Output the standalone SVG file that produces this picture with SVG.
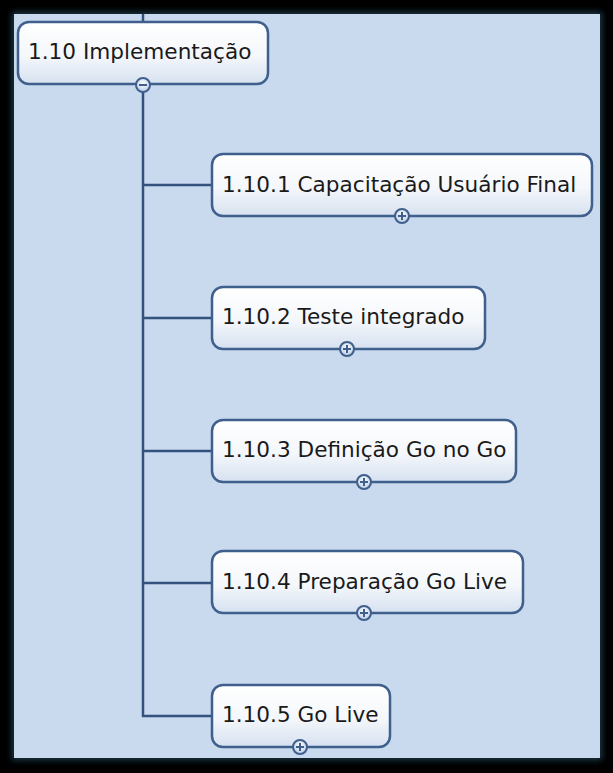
<svg xmlns="http://www.w3.org/2000/svg" width="613" height="773" viewBox="0 0 613 773">
<defs>
<linearGradient id="nodeFill" x1="0" y1="0" x2="0" y2="1">
<stop offset="0" stop-color="#ffffff"/>
<stop offset="0.55" stop-color="#f4f7fb"/>
<stop offset="1" stop-color="#d6e1f0"/>
</linearGradient>
<radialGradient id="btnFill" cx="0.5" cy="0.4" r="0.6">
<stop offset="0" stop-color="#ffffff"/>
<stop offset="1" stop-color="#b9cbe3"/>
</radialGradient>
<filter id="glow" x="-5%" y="-5%" width="110%" height="110%">
<feGaussianBlur stdDeviation="3"/>
</filter>
</defs>
<style>
.node{fill:url(#nodeFill);stroke:#3f5f8c;stroke-width:2.5}
.lbl{font-family:"DejaVu Sans",Verdana,sans-serif;font-size:21.6px;fill:#1a1a1a}
.conn{stroke:#33527d;stroke-width:2.5;fill:none}
.btn{fill:url(#btnFill);stroke:#3f5f8c;stroke-width:2}
.sym{stroke:#3f5f8c;stroke-width:2;fill:none}
</style>
<rect x="0" y="0" width="613" height="773" fill="#000000"/>
<rect x="12" y="12" width="590" height="748" fill="#1c3a4a" filter="url(#glow)"/>
<rect x="14" y="14" width="586" height="744" fill="#c9d9ee"/>
<g id="connectors">
<line class="conn" x1="143" y1="14" x2="143" y2="22"/>
<polyline class="conn" points="143,85 143,716 213,716"/>
<line class="conn" x1="143" y1="185" x2="213" y2="185"/>
<line class="conn" x1="143" y1="318" x2="213" y2="318"/>
<line class="conn" x1="143" y1="451" x2="213" y2="451"/>
<line class="conn" x1="143" y1="583" x2="213" y2="583"/>
</g>
<g id="n1_10">
<rect class="node" x="18" y="22" width="250" height="62" rx="11"/>
<text class="lbl" x="28" y="59">1.10 Implementação</text>
<circle class="btn" cx="143" cy="85" r="7"/>
<line class="sym" x1="139" y1="85" x2="147" y2="85"/>
</g>
<g id="n1_10_1">
<rect class="node" x="212" y="154" width="380" height="62" rx="11"/>
<text class="lbl" x="222" y="192">1.10.1 Capacitação Usuário Final</text>
<circle class="btn" cx="402" cy="216" r="7"/>
<path class="sym" d="M398 216H406M402 212V220"/>
</g>
<g id="n1_10_2">
<rect class="node" x="212" y="287" width="273" height="62" rx="11"/>
<text class="lbl" x="222" y="324">1.10.2 Teste integrado</text>
<circle class="btn" cx="347" cy="349" r="7"/>
<path class="sym" d="M343 349H351M347 345V353"/>
</g>
<g id="n1_10_3">
<rect class="node" x="212" y="420" width="304" height="62" rx="11"/>
<text class="lbl" x="222" y="457">1.10.3 Definição Go no Go</text>
<circle class="btn" cx="364" cy="482" r="7"/>
<path class="sym" d="M360 482H368M364 478V486"/>
</g>
<g id="n1_10_4">
<rect class="node" x="212" y="551" width="311" height="62" rx="11"/>
<text class="lbl" x="222" y="589">1.10.4 Preparação Go Live</text>
<circle class="btn" cx="364" cy="613" r="7"/>
<path class="sym" d="M360 613H368M364 609V617"/>
</g>
<g id="n1_10_5">
<rect class="node" x="212" y="685" width="178" height="62" rx="11"/>
<text class="lbl" x="222" y="722">1.10.5 Go Live</text>
<circle class="btn" cx="300" cy="747" r="7"/>
<path class="sym" d="M296 747H304M300 743V751"/>
</g>
</svg>
